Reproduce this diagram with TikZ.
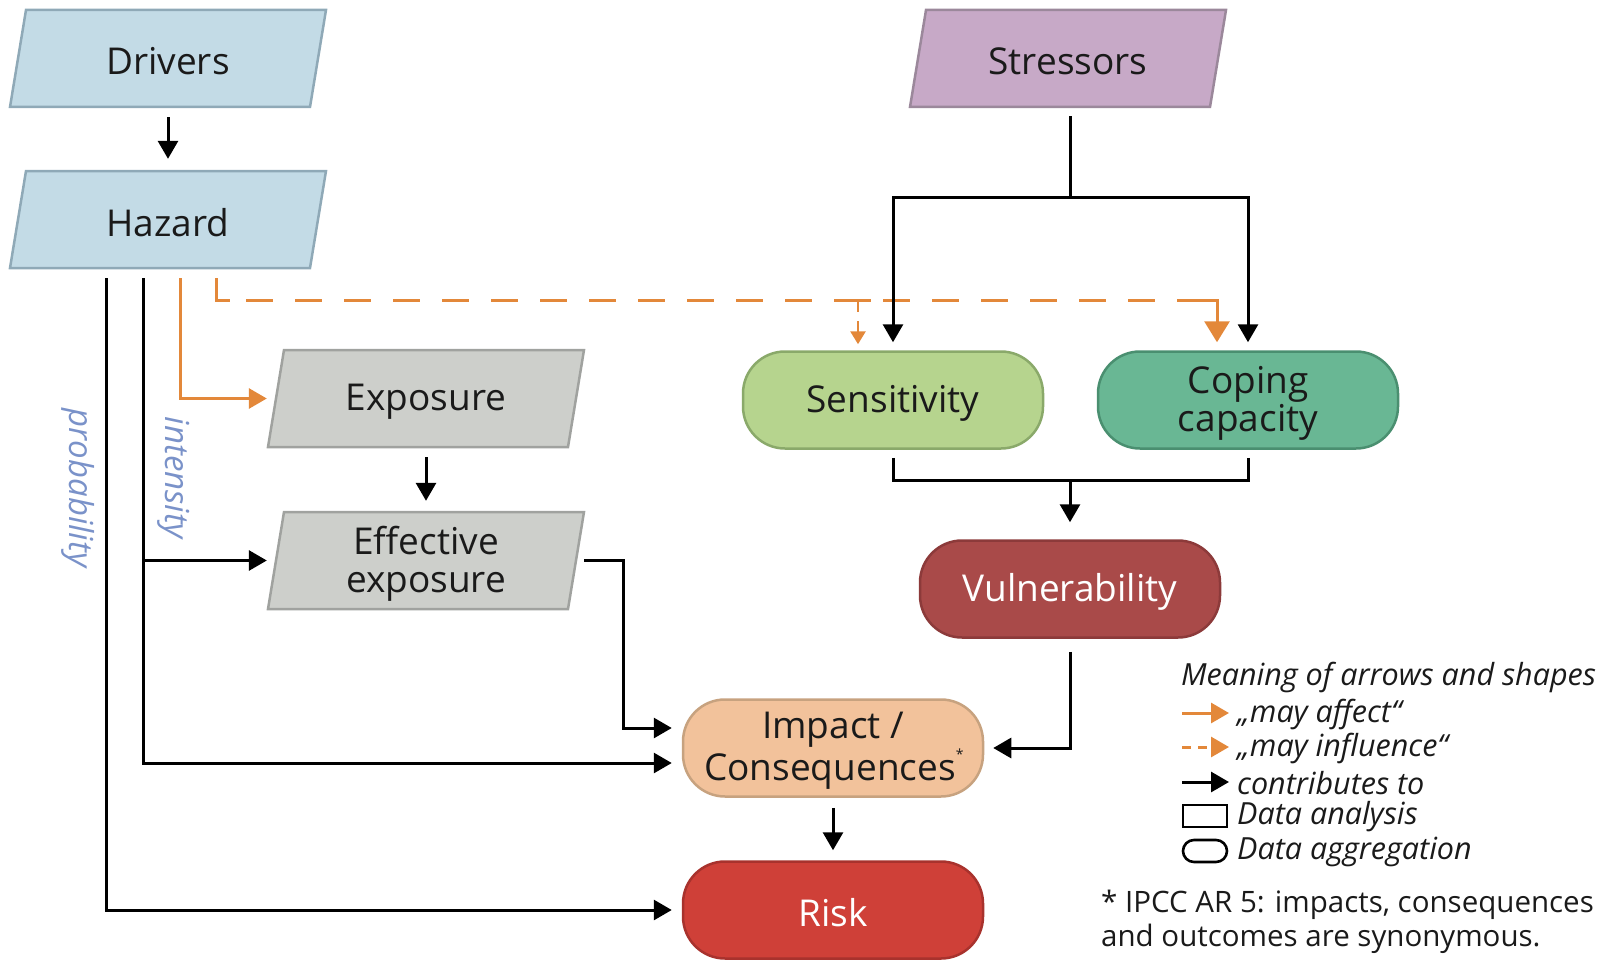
\documentclass[tikz,border=0pt]{standalone}
\usepackage{fontspec}
\setmainfont{Open Sans}
\usetikzlibrary{arrows.meta,calc}
\definecolor{bluef}{HTML}{C3DBE6}\definecolor{blued}{HTML}{8FA9B7}
\definecolor{purf}{HTML}{C7A9C7}\definecolor{purd}{HTML}{9B889B}
\definecolor{greyf}{HTML}{CDCFCB}\definecolor{greyd}{HTML}{A0A29F}
\definecolor{sensf}{HTML}{B6D48E}\definecolor{sensd}{HTML}{8AA96A}
\definecolor{copf}{HTML}{69B794}\definecolor{copd}{HTML}{4A8F70}
\definecolor{vulf}{HTML}{A94A49}\definecolor{vuld}{HTML}{8C3A3A}
\definecolor{impf}{HTML}{F2C29B}\definecolor{impd}{HTML}{C7A27F}
\definecolor{riskf}{HTML}{CF4038}\definecolor{riskd}{HTML}{A8322D}
\definecolor{orng}{HTML}{E3883A}
\definecolor{lblue}{HTML}{7A92C9}
\definecolor{txt}{HTML}{1A1A1A}
\newcommand\mainfs{\fontsize{37}{38}\selectfont}
\newcommand\legfs{\fontsize{30.5}{34}\selectfont}
\newcommand\lo[1]{\raisebox{-3pt}[\height][\depth]{#1}}
\newcommand\paranode[6]{%
  \filldraw[fill=#4, draw=#5, line width=2.5pt] (#2-158,#3+48.5) -- (#2+142,#3+48.5) -- (#2+158,#3-48.5) -- (#2-142,#3-48.5) -- cycle;
  \node[box] (#1) at (#2,#3) {#6};}
\tikzset{
  box/.style={minimum width=300pt, minimum height=97pt, align=center, font=\mainfs, inner sep=0pt, text=txt},
  rbox/.style={box, rounded corners=42pt, draw, line width=2.5pt},
  blk/.style={line width=3pt, black},
  arr/.style={blk, -{Triangle[length=18pt,width=20pt]}},
  oarr/.style={line width=3pt, orng, -{Triangle[length=18pt,width=20pt]}},
  odash/.style={line width=3pt, orng, dash pattern=on 27pt off 22pt},
  legtext/.style={font=\legfs\itshape, text=txt, inner sep=0pt, anchor=west},
  vlabel/.style={font=\fontsize{33}{36}\selectfont\itshape, text=lblue, inner sep=0pt, rotate=-90}
}
\begin{document}
\begin{tikzpicture}[x=1pt,y=-1pt]
\useasboundingbox (0,0) rectangle (1611,963);
% parallelogram nodes
\paranode{drv}{168}{58.5}{bluef}{blued}{\lo{Drivers}}
\paranode{haz}{168}{219.5}{bluef}{blued}{\lo{Hazard}}
\paranode{str}{1068}{58.5}{purf}{purd}{\lo{Stressors}}
\paranode{exp}{426}{398.5}{greyf}{greyd}{\lo{Exposure}}
\paranode{eff}{426}{560.5}{greyf}{greyd}{\lo{Effective}\\\lo{exposure}}
% rounded nodes
\node[rbox, fill=sensf, draw=sensd] (sens) at (893,400) {\lo{Sensitivity}};
\node[rbox, fill=copf, draw=copd] (cop) at (1248,400) {\lo{Coping}\\\lo{capacity}};
\node[rbox, fill=vulf, draw=vuld, text=white] (vul) at (1070,589) {\lo{Vulnerability}};
\node[rbox, fill=impf, draw=impd] (imp) at (833,748) {\lo{Impact /}\\\lo{Consequences\rlap{\raisebox{1.1ex}{\fontsize{14}{14}\selectfont *}}\hspace{6pt}}};
\node[rbox, fill=riskf, draw=riskd, text=white] (risk) at (833,910) {\lo{Risk}};
% drivers -> hazard
\draw[arr, shorten <=10pt, shorten >=12pt] (drv.south) -- (haz.north);
% hazard outgoing
\coordinate (pTop) at ([xshift=-62pt,yshift=-10pt]haz.south);
\coordinate (iTop) at ([xshift=-25pt,yshift=-10pt]haz.south);
\coordinate (oTop) at ([xshift=12pt,yshift=-10pt]haz.south);
\coordinate (dTop) at ([xshift=48pt,yshift=-10pt]haz.south);
\draw[arr, shorten >=10pt] (pTop) |- (risk.west);
\draw[arr, shorten >=10pt] (iTop) |- ([yshift=-15pt]imp.west);
\draw[arr, shorten >=9pt] (iTop |- eff.west) -- (eff.west);
\draw[oarr, shorten >=9pt] (oTop) |- (exp.west);
% dashed influence
\coordinate (dCorner) at (216,300);
\coordinate (dEnd) at (1217,300);
\coordinate (sBr) at (858,300);
\draw[line width=3pt, orng] (dTop) -- (dCorner) -- ++(14,0);
\draw[odash] ([xshift=30pt]dCorner) -- (dEnd);
\draw[line width=3pt, orng] ([xshift=-14pt]dEnd) -- (dEnd) -- ++(0,12);
\draw[oarr, -{Triangle[length=21pt,width=25pt]}, shorten >=8pt] ([yshift=-12pt]dEnd) -- (dEnd |- cop.north);
\draw[line width=3pt, orng] (845,300) -- (871,300);
\draw[line width=2.8pt, orng, dash pattern=on 12pt off 9pt, -{Triangle[length=13pt,width=15pt]}, shorten >=6pt] (sBr) -- (sBr |- sens.north);
% exposure -> effective
\draw[arr, shorten <=10pt, shorten >=11pt] (exp.south) -- (eff.north);
% effective -> impact
\draw[arr, shorten >=10pt] ([xshift=8pt]eff.east) -- ++(39,0) |- ([yshift=20pt]imp.west);
% stressors
\coordinate (sj) at (1070,197);
\draw[blk] ([yshift=-9pt]sj |- str.south) -- (sj);
\draw[arr, shorten >=8pt] (sj) -| (sens.north);
\draw[arr, shorten >=8pt] (sj) -| (cop.north);
% sens/cop -> vulnerability
\coordinate (vj) at (1070,480);
\draw[blk] ([yshift=-8pt]sens.south) |- (vj);
\draw[blk] ([yshift=-8pt]cop.south) |- (vj);
\draw[arr, shorten >=17pt] (vj) -- (vul.north);
% vulnerability -> impact
\draw[arr, shorten >=9pt] ([yshift=-13pt]vul.south) |- (imp.east);
% impact -> risk
\draw[arr, shorten <=10pt, shorten >=10pt] (imp.south) -- (risk.north);
% labels
\node[vlabel] (lprob) at (78,488) {probability};
\node[vlabel] (lint) at (174,478) {intensity};
% legend
\node[legtext] (lg0) at (1181,677) {Meaning of arrows and shapes};
\draw[oarr] (1182,713) -- (1229,713);
\node[legtext] (lg1) at (1237,714) {„may affect“};
\draw[line width=3pt, orng, dash pattern=on 9pt off 7pt, -{Triangle[length=18pt,width=20pt]}] (1182,747) -- (1229,747);
\node[legtext] (lg2) at (1237,748) {„may influence“};
\draw[arr] (1182,782) -- (1229,782);
\node[legtext] (lg3) at (1237,783) {contributes to};
\draw[line width=2.6pt] (1183,805) rectangle (1227,827);
\node[legtext] (lg4) at (1237,817) {Data analysis};
\draw[line width=2.6pt, rounded corners=11pt] (1183,840) rectangle (1227,862);
\node[legtext] (lg5) at (1237,852) {Data aggregation};
\node[font=\fontsize{29.5}{34}\selectfont, text=txt, inner sep=0pt, anchor=north west, align=left] (foot) at (1101,890) {* IPCC AR 5: impacts, consequences\\and outcomes are synonymous.};
\end{tikzpicture}
\end{document}
